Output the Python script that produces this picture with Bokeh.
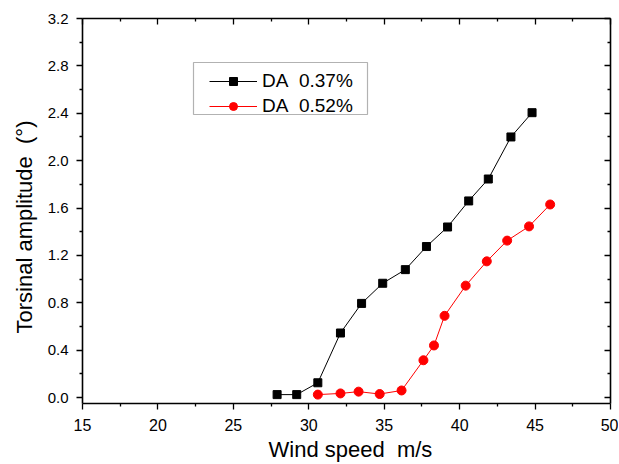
from bokeh.plotting import figure
from bokeh.models import (Range1d, LinearAxis, FixedTicker, Title, Legend, LegendItem,
                          BoxAnnotation)
from bokeh.embed import file_html
from bokeh.resources import INLINE

# ---- data ----
black_x = [27.9, 29.2, 30.6, 32.1, 33.5, 34.9, 36.4, 37.8, 39.2, 40.6, 41.9, 43.4, 44.8]
black_y = [0.025, 0.025, 0.125, 0.545, 0.795, 0.965, 1.08, 1.275, 1.44, 1.66, 1.845, 2.2, 2.405]
red_x = [30.6, 32.1, 33.3, 34.7, 36.15, 37.6, 38.3, 39.0, 40.4, 41.8, 43.15, 44.6, 46.0]
red_y = [0.025, 0.035, 0.05, 0.03, 0.06, 0.315, 0.44, 0.69, 0.945, 1.15, 1.325, 1.445, 1.63]

NB = "\u00a0"
series_labels = ["DA" + NB + NB + "0.37%", "DA" + NB + NB + "0.52%"]
x_ticks = [15, 20, 25, 30, 35, 40, 45, 50]
x_minor = [17.5, 22.5, 27.5, 32.5, 37.5, 42.5, 47.5]
y_ticks = [0.0, 0.4, 0.8, 1.2, 1.6, 2.0, 2.4, 2.8, 3.2]
y_minor = [0.2, 0.6, 1.0, 1.4, 1.8, 2.2, 2.6, 3.0]
y_tick_labels = ["0.0", "0.4", "0.8", "1.2", "1.6", "2.0", "2.4", "2.8", "3.2"]
x_title = "Wind speed" + NB + NB + "m/s"
y_title = "Torsinal amplitude" + NB + NB + "(\u00b0)"

FONT = "Liberation Sans"

p = figure(frame_width=528, frame_height=385,
           min_border_left=82, min_border_top=18, min_border_right=8, min_border_bottom=61,
           x_range=Range1d(15, 50), y_range=Range1d(-0.05, 3.2),
           output_backend="svg", toolbar_location=None,
           x_axis_location=None, y_axis_location=None)
p.xgrid.visible = False
p.ygrid.visible = False
p.outline_line_color = None
p.background_fill_color = "white"
p.border_fill_color = "white"

def style_axis(ax, ticks, minor, labeled, font_size):
    ax.ticker = FixedTicker(ticks=ticks, minor_ticks=minor)
    ax.axis_line_color = "black"
    ax.axis_line_width = 1.6
    ax.major_tick_line_color = "black"
    ax.minor_tick_line_color = "black"
    ax.major_tick_line_width = 1.3
    ax.minor_tick_line_width = 1.3
    if labeled:
        ax.major_tick_out = 6
        ax.major_tick_in = 0
        ax.minor_tick_out = 3
        ax.minor_tick_in = 0
        ax.major_label_text_font = FONT
        ax.major_label_text_font_size = font_size
        ax.major_label_text_color = "black"
    else:
        ax.major_tick_out = 0
        ax.major_tick_in = 6
        ax.minor_tick_out = 0
        ax.minor_tick_in = 3
        ax.major_label_overrides = {t: "" for t in ticks}
        ax.major_label_standoff = 0

xb = LinearAxis()
style_axis(xb, x_ticks, x_minor, True, "16px")
xb.major_label_standoff = 9
p.add_layout(xb, "below")

yl = LinearAxis()
style_axis(yl, y_ticks, y_minor, True, "15px")
yl.major_label_overrides = {v: s for v, s in zip(y_ticks, y_tick_labels)}
yl.major_label_standoff = 8
p.add_layout(yl, "left")

xt = LinearAxis()
style_axis(xt, x_ticks, x_minor, False, "0px")
p.add_layout(xt, "above")

yr = LinearAxis()
style_axis(yr, y_ticks, y_minor, False, "0px")
p.add_layout(yr, "right")

# axis titles, placed as in the reference (slightly off-centre)
p.add_layout(Title(text=x_title, align="left", offset=186, standoff=3,
                   text_font=FONT, text_font_size="22px", text_font_style="normal",
                   text_color="black"), "below")
p.add_layout(Title(text=y_title, align="left", offset=70, standoff=15,
                   text_font=FONT, text_font_size="22px", text_font_style="normal",
                   text_color="black"), "left")

# series
l1 = p.line(black_x, black_y, line_color="black", line_width=1)
m1 = p.scatter(black_x, black_y, marker="square", size=8, fill_color="black", line_color="black")
l2 = p.line(red_x, red_y, line_color="#ff0000", line_width=1)
m2 = p.scatter(red_x, red_y, marker="circle", size=9, fill_color="#ff0000", line_color="#ff0000")

# legend frame
p.add_layout(BoxAnnotation(left=111, right=285, bottom=289, top=341,
                           left_units="screen", right_units="screen",
                           bottom_units="screen", top_units="screen",
                           fill_alpha=0, line_color="black", line_width=1.2, level="overlay"))

legend = Legend(items=[LegendItem(label=series_labels[0], renderers=[l1, m1]),
                       LegendItem(label=series_labels[1], renderers=[l2, m2])],
                location=(127, 286), orientation="vertical",
                glyph_width=48, glyph_height=20, label_height=20,
                label_standoff=5, spacing=3, padding=6,
                label_text_font=FONT, label_text_font_size="19px", label_text_color="black",
                border_line_color=None, background_fill_alpha=0)
p.add_layout(legend, "center")

open("out.html", "w").write(file_html(p, INLINE))
